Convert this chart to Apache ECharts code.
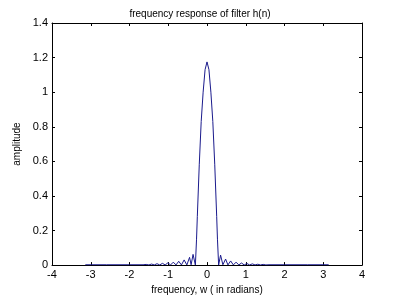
<!DOCTYPE html>
<html>
<head>
<meta charset="utf-8">
<script src="https://cdn.jsdelivr.net/npm/echarts@6/dist/echarts.min.js"></script>
<style>
html,body{margin:0;padding:0;background:#fff;}
#c{width:400px;height:300px;}
</style>
</head>
<body>
<div id="c"></div>
<script>
const titleText = "frequency response of filter h(n)";
const xLabel = "frequency, w ( in radians)";
const yLabel = "amplitude";
const freq = [-3.14, -2.6, -2.0, -1.65, -1.57, -1.50, -1.43, -1.36, -1.29, -1.22, -1.15, -1.08, -1.01, -0.94, -0.87, -0.80, -0.73, -0.66, -0.59, -0.52, -0.45, -0.41, -0.36, -0.30, -0.27, -0.25, -0.20, -0.15, -0.10, -0.05, 0.00,
  0.05, 0.10, 0.15, 0.20, 0.25, 0.27, 0.30, 0.35, 0.41, 0.48, 0.54, 0.61, 0.68, 0.75, 0.82, 0.89, 0.96, 1.03, 1.10, 1.17, 1.24, 1.31, 1.38, 1.45, 1.52, 1.60, 2.0, 2.6, 3.14];
const amp = [0.002, 0.002, 0.002, 0.002, 0.004, 0.001, 0.006, 0.001, 0.008, 0.001, 0.010, 0.001, 0.013, 0.001, 0.017, 0.001, 0.022, 0.001, 0.030, 0.001, 0.045, 0.002, 0.062, 0.000, 0.15, 0.28, 0.58, 0.83, 1.00, 1.13, 1.175,
  1.13, 1.00, 0.83, 0.58, 0.28, 0.15, 0.000, 0.058, 0.002, 0.035, 0.001, 0.024, 0.001, 0.017, 0.001, 0.012, 0.001, 0.009, 0.001, 0.007, 0.001, 0.005, 0.001, 0.004, 0.001, 0.002, 0.002, 0.002, 0.002];
const xTicks = [-4, -3, -2, -1, 0, 1, 2, 3, 4];
const yTicks = [0, 0.2, 0.4, 0.6, 0.8, 1, 1.2, 1.4];

const data = freq.map((w, i) => [w, amp[i]]);
const font = "Liberation Sans, Arial, sans-serif";
const chart = echarts.init(document.getElementById('c'), null, {renderer: 'canvas'});
const lineStyle = {color: '#000', width: 1};
chart.setOption({
  animation: false,
  backgroundColor: '#fff',
  title: {text: titleText, left: 'center', top: 4, textStyle: {fontFamily: font, fontSize: 10, fontWeight: 'normal', color: '#000'}},
  grid: {left: 52, right: 38, top: 23, bottom: 33},
  xAxis: [
    {type: 'value', min: xTicks[0], max: xTicks[xTicks.length-1], interval: 1, position: 'bottom',
     name: xLabel, nameLocation: 'middle', nameGap: 17, nameTextStyle: {fontFamily: font, fontSize: 10, color: '#000'},
     axisLine: {show: true, onZero: false, lineStyle}, axisTick: {show: true, inside: true, length: 3, lineStyle},
     axisLabel: {fontFamily: font, fontSize: 11, color: '#000', margin: 4}, splitLine: {show: false}},
    {type: 'value', min: xTicks[0], max: xTicks[xTicks.length-1], interval: 1, position: 'top',
     axisLine: {show: true, onZero: false, lineStyle}, axisTick: {show: true, inside: true, length: 3, lineStyle},
     axisLabel: {show: false}, splitLine: {show: false}}
  ],
  yAxis: [
    {type: 'value', min: yTicks[0], max: yTicks[yTicks.length-1], interval: 0.2, position: 'left',
     name: yLabel, nameLocation: 'middle', nameGap: 22, nameRotate: 90, nameTextStyle: {fontFamily: font, fontSize: 10, color: '#000'},
     axisLine: {show: true, onZero: false, lineStyle}, axisTick: {show: true, inside: true, length: 3, lineStyle},
     axisLabel: {fontFamily: font, fontSize: 11, color: '#000', margin: 4}, splitLine: {show: false}},
    {type: 'value', min: yTicks[0], max: yTicks[yTicks.length-1], interval: 0.2, position: 'right',
     axisLine: {show: true, onZero: false, lineStyle}, axisTick: {show: true, inside: true, length: 3, lineStyle},
     axisLabel: {show: false}, splitLine: {show: false}}
  ],
  series: [{type: 'line', data, xAxisIndex: 0, yAxisIndex: 0, showSymbol: false, symbol: 'none',
    lineStyle: {color: '#1a1a8c', width: 1}, z: 1}]
});
</script>
</body>
</html>
